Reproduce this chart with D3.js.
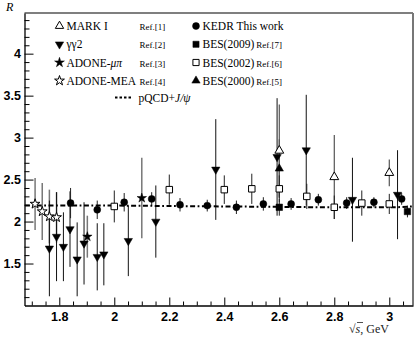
<!DOCTYPE html>
<html><head><meta charset="utf-8">
<script src="https://cdn.jsdelivr.net/npm/d3@7"></script>
<style>body{margin:0;background:#fff}svg{display:block}</style>
</head><body>
<script>
// ---- data ----
const kedrE = [1.841,1.938,2.036,2.136,2.239,2.338,2.444,2.542,2.643,2.742,2.845,2.944,3.045];
const kedrR = [2.22,2.14,2.23,2.27,2.20,2.19,2.17,2.21,2.21,2.26,2.22,2.23,2.27];
const kedrErr = [0.18,0.11,0.11,0.08,0.08,0.07,0.08,0.08,0.07,0.07,0.07,0.06,0.07];

const bes2002E = [2.0,2.2,2.4,2.5,2.6,2.7,2.8,2.9,3.0];
const bes2002R = [2.18,2.38,2.38,2.39,2.39,2.30,2.17,2.22,2.21];
const bes2002Err = [0.19,0.18,0.17,0.18,0.16,0.15,0.14,0.15,0.12];

const bes2009E = [2.6,3.066];
const bes2009R = [2.17,2.12];
const bes2009Err = [0.10,0.07];

const bes2000E = [2.6];
const bes2000R = [2.63];
const bes2000Err = [0.35];

const gg2E = [1.764,1.79,1.815,1.839,1.865,1.89,1.938,1.962,2.051,2.151,2.369,2.592,2.698,2.866,3.03];
const gg2R = [1.68,1.82,1.70,1.91,1.55,1.74,1.58,1.61,1.77,2.00,2.62,2.77,2.85,2.26,2.32];
const gg2Err = [0.57,0.53,0.41,0.45,0.44,0.49,0.40,0.37,0.42,0.43,0.60,0.70,0.66,0.50,0.53];

const markE = [2.6,2.8,3.0];
const markR = [2.845,2.53,2.58];
const markErr = [0.55,0.50,0.16];

const adoneMuPiE = [1.902,2.1];
const adoneMuPiR = [1.82,2.28];
const adoneMuPiErr = [0.25,0.48];

const adoneMeaE = [1.712,1.738,1.764,1.79];
const adoneMeaR = [2.21,2.12,2.06,2.05];
const adoneMeaErr = [0.31,0.34,0.32,0.30];

const pqcdE = [1.675,1.8,2.0,2.2,2.4,2.6,2.8,3.0,3.086];
const pqcdR = [2.19,2.19,2.19,2.185,2.18,2.175,2.17,2.17,2.18];

const xTickVals = [1.8,2.0,2.2,2.4,2.6,2.8,3.0];
const xTickLabels = ["1.8","2","2.2","2.4","2.6","2.8","3"];
const yTickVals = [1.5,2,2.5,3,3.5,4];
const yTickLabels = ["1.5","2","2.5","3","3.5","4"];

// ---- layout ----
const W = 415, H = 338;
const L = 24.5, R = 413, T = 13, B = 305.5;
const svg = d3.select("body").append("svg").attr("width",W).attr("height",H);
const x = d3.scaleLinear().domain([1.6735,3.0862]).range([L,R]);
const y = d3.scaleLinear().domain([1.0,4.4845]).range([B,T]);

// frame
svg.append("line").attr("x1",L).attr("x2",R).attr("y1",T).attr("y2",T).attr("stroke","#000").attr("stroke-width",1.2);
svg.append("line").attr("x1",R).attr("x2",R).attr("y1",T).attr("y2",B).attr("stroke","#777").attr("stroke-width",2);

// axes with ticks inward
const xMinor = d3.range(1.70,3.0862,0.05).filter(v=>!xTickVals.some(t=>Math.abs(t-v)<1e-6));
const yMinor = d3.range(1.1,4.48,0.1).filter(v=>!yTickVals.some(t=>Math.abs(t-v)<1e-6));

const xAxis = d3.axisBottom(x).tickValues(xTickVals).tickFormat((d,i)=>xTickLabels[i]).tickSizeInner(-8).tickSizeOuter(0).tickPadding(6.5);
const gx = svg.append("g").attr("transform",`translate(0,${B})`).call(xAxis);
const gxm = svg.append("g").attr("transform",`translate(0,${B})`).call(d3.axisBottom(x).tickValues(xMinor).tickFormat("").tickSizeInner(-4).tickSizeOuter(0));
gxm.select(".domain").remove();
const yAxis = d3.axisLeft(y).tickValues(yTickVals).tickFormat((d,i)=>yTickLabels[i]).tickSizeInner(-9).tickSizeOuter(0).tickPadding(3.5);
const gy = svg.append("g").attr("transform",`translate(${L},0)`).call(yAxis);
const gym = svg.append("g").attr("transform",`translate(${L},0)`).call(d3.axisLeft(y).tickValues(yMinor).tickFormat("").tickSizeInner(-5).tickSizeOuter(0));
gym.select(".domain").remove();
[gx,gy].forEach(g=>{
  g.select(".domain").attr("stroke","#000").attr("stroke-width",1.3);
  g.selectAll("text").attr("font-family","Liberation Sans, Arial, sans-serif").attr("font-weight","bold").attr("font-size",12.5).attr("fill","#000");
});
[gx,gy,gxm,gym].forEach(g=>g.selectAll(".tick line").attr("stroke","#000").attr("stroke-width",1));

// axis titles
svg.append("text").attr("x",6).attr("y",11).attr("font-family","Liberation Serif, serif").attr("font-style","italic").attr("font-size",12).text("R");
const xt = svg.append("text").attr("x",349).attr("y",333).attr("font-family","Liberation Serif, serif").attr("font-size",12).attr("fill","#222");
xt.append("tspan").text("√");
xt.append("tspan").attr("font-style","italic").text("s");
xt.append("tspan").text(", GeV");
svg.append("line").attr("x1",357).attr("x2",363).attr("y1",322.5).attr("y2",322.5).attr("stroke","#222").attr("stroke-width",0.8);

// error bars
function errBars(E,Rv,Er,color,w){
  svg.append("g").selectAll("line").data(E).join("line")
    .attr("x1",(d)=>x(d)).attr("x2",(d)=>x(d))
    .attr("y1",(d,i)=>y(Rv[i]+Er[i])).attr("y2",(d,i)=>y(Rv[i]-Er[i]))
    .attr("stroke",color).attr("stroke-width",w);
}
errBars(adoneMeaE,adoneMeaR,adoneMeaErr,"#777",1.5);
errBars(adoneMuPiE,adoneMuPiR,adoneMuPiErr,"#777",1.5);
errBars(markE,markR,markErr,"#555",1.2);
errBars(gg2E,gg2R,gg2Err,"#111",1);
errBars(bes2000E,bes2000R,bes2000Err,"#555",1.2);
errBars(bes2002E,bes2002R,bes2002Err,"#222",1);
errBars(bes2009E,bes2009R,bes2009Err,"#222",1);
errBars(kedrE,kedrR,kedrErr,"#222",1);

// pQCD line
const line = d3.line().x(d=>x(d[0])).y(d=>y(d[1])).curve(d3.curveMonotoneX);
svg.append("path").datum(pqcdE.map((e,i)=>[e,pqcdR[i]])).attr("d",line)
  .attr("fill","none").attr("stroke","#000").attr("stroke-width",2).attr("stroke-dasharray","5,2.5,1.8,2.5");

// markers
function marks(E,Rv,type,size,filled,rot){
  svg.append("g").selectAll("path").data(E).join("path")
    .attr("d",d3.symbol().type(type).size(size))
    .attr("transform",(d,i)=>`translate(${x(d)},${y(Rv[i])})${rot?" rotate(180)":""}`)
    .attr("fill",filled?"#000":"#fff").attr("stroke","#000").attr("stroke-width",filled?0.5:1);
}
marks(adoneMeaE,adoneMeaR,d3.symbolStar,30,false,false);
marks(adoneMuPiE,adoneMuPiR,d3.symbolStar,28,true,false);
marks(gg2E,gg2R,d3.symbolTriangle,30,true,true);
marks(markE,markR,d3.symbolTriangle,34,false,false);
marks(bes2000E,bes2000R,d3.symbolTriangle,30,true,false);
marks(bes2002E,bes2002R,d3.symbolSquare,42,false,false);
marks(bes2009E,bes2009R,d3.symbolSquare,42,true,false);
marks(kedrE,kedrR,d3.symbolCircle,38,true,false);

// legend
const legLeft = [
  {type:d3.symbolTriangle,filled:false,rot:false,name:"MARK I",ref:"Ref.[1]"},
  {type:d3.symbolTriangle,filled:true,rot:true,name:"γγ2",ref:"Ref.[2]"},
  {type:d3.symbolStar,filled:true,rot:false,name:"ADONE-",nameIt:"μπ",ref:"Ref.[3]"},
  {type:d3.symbolStar,filled:false,rot:false,name:"ADONE-MEA",ref:"Ref.[4]"}
];
const legRight = [
  {type:d3.symbolCircle,filled:true,name:"KEDR This work",ref:""},
  {type:d3.symbolSquare,filled:true,name:"BES(2009)",ref:"Ref.[7]"},
  {type:d3.symbolSquare,filled:false,name:"BES(2002)",ref:"Ref.[6]"},
  {type:d3.symbolTriangle,filled:true,name:"BES(2000)",ref:"Ref.[5]"}
];
const rowY = [26,44.3,62.5,80.7];
const serif = "Liberation Serif, Times New Roman, serif";
legLeft.forEach((d,i)=>{
  svg.append("path").attr("d",d3.symbol().type(d.type).size(30)())
    .attr("transform",`translate(59.5,${rowY[i]})${d.rot?" rotate(180)":""}`)
    .attr("fill",d.filled?"#000":"#fff").attr("stroke","#000").attr("stroke-width",d.filled?0.5:1);
  const t = svg.append("text").attr("x",66.5).attr("y",rowY[i]+4).attr("font-family",serif).attr("font-size",11.5);
  t.append("tspan").text(d.name);
  if(d.nameIt) t.append("tspan").attr("font-style","italic").text(d.nameIt);
  svg.append("text").attr("x",139.5).attr("y",rowY[i]+4).attr("font-family",serif).attr("font-size",9).text(d.ref);
});
legRight.forEach((d,i)=>{
  svg.append("path").attr("d",d3.symbol().type(d.type).size(d.type===d3.symbolTriangle?30:38)())
    .attr("transform",`translate(196,${rowY[i]})`)
    .attr("fill",d.filled?"#000":"#fff").attr("stroke","#000").attr("stroke-width",d.filled?0.5:1);
  const t = svg.append("text").attr("x",202.5).attr("y",rowY[i]+4).attr("font-family",serif).attr("font-size",11.5);
  t.append("tspan").text(d.name);
  if(d.ref) t.append("tspan").attr("font-size",9).attr("dx",2).text(d.ref);
});
svg.append("line").attr("x1",115).attr("x2",132).attr("y1",97.5).attr("y2",97.5)
  .attr("stroke","#000").attr("stroke-width",2).attr("stroke-dasharray","2.5,2");
const pt = svg.append("text").attr("x",138.5).attr("y",101.5).attr("font-family",serif).attr("font-size",11.5);
pt.append("tspan").text("pQCD+");
pt.append("tspan").attr("font-style","italic").text("J/ψ");
</script>
</body></html>
